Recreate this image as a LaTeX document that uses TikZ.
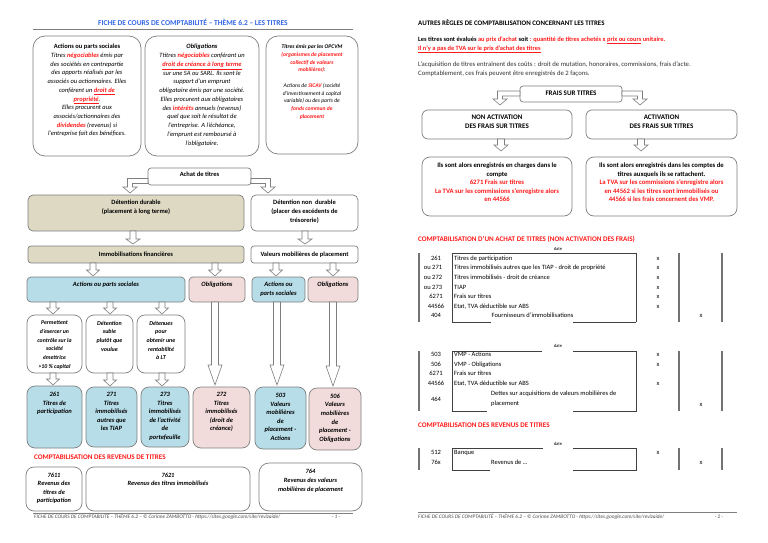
\documentclass[tikz,border=0pt]{standalone}
\usepackage{fontspec}
\setmainfont{Carlito}
\usetikzlibrary{calc}
\definecolor{tblue}{HTML}{3366E6}
\definecolor{tred}{HTML}{FF1A1A}
\definecolor{bgray}{HTML}{7F7F7F}
\definecolor{tanfill}{HTML}{DDD9C3}
\definecolor{bluefill}{HTML}{B7DDE8}
\definecolor{pinkfill}{HTML}{F2DCDB}
\newcommand\rd[1]{\textcolor{tred}{#1}}
\newcommand\fsz[2]{\fontsize{#1}{#2}\selectfont}
\tikzset{
 bx/.style={draw=bgray, line width=0.7pt, inner sep=0pt, outer sep=0pt, anchor=north west},
 txt/.style={inner sep=0pt, align=center, anchor=north},
 harrow/.style={draw=bgray, line width=0.6pt, fill=white, line join=miter},
 jl/.style={draw=black!75, line width=0.5pt},
 jthick/.style={draw=black!55, line width=1.2pt},
 jt/.style={inner sep=0pt, font=\fsz{6.5}{7.5}},
 jn/.style={jt, anchor=base},
 jw/.style={jt, anchor=base west},
 dt/.style={inner sep=0pt, anchor=base, font=\fsz{4.6}{5}},
 foot/.style={inner sep=0pt, anchor=base west, font=\itshape\fsz{5.3}{6}, text=black!70},
 redhead/.style={inner sep=0pt, anchor=base west, font=\bfseries\fsz{7.1}{8}, text=tred},
}
\newcommand\mkbox[6]{\node[bx,#6,minimum width={(#4-#2)*1pt},minimum height={(#5-#3)*1pt}] (#1) at (#2,#3) {};}
% hollow down arrow: x, from, to, shaft half, head half, head length, gap
\newcommand\hdn[7]{\draw[harrow] let \p1=(#2.south), \p2=(#3.north) in
  ({#1pt-#4pt},\y1) -- ({#1pt-#4pt},{\y2+#7pt+#6pt}) -- ({#1pt-#5pt},{\y2+#7pt+#6pt}) -- (#1pt,{\y2+#7pt}) -- ({#1pt+#5pt},{\y2+#7pt+#6pt}) -- ({#1pt+#4pt},{\y2+#7pt+#6pt}) -- ({#1pt+#4pt},\y1) -- cycle;}
% hollow bent arrow: from anchor, to node, bend x, shaft offset down, gap, direction
\newcommand\bentarrow[6]{\draw[harrow] let \p1=(#1), \p2=(#2.north) in
  (\x1,{\y1-#4pt+2.5pt}) -- ({#3pt+#6*2.5pt},{\y1-#4pt+2.5pt}) -- ({#3pt+#6*2.5pt},{\y2+#5pt+6pt}) -- ({#3pt+#6*7pt},{\y2+#5pt+6pt}) -- (#3pt,{\y2+#5pt}) -- ({#3pt-#6*7pt},{\y2+#5pt+6pt}) -- ({#3pt-#6*2.5pt},{\y2+#5pt+6pt}) -- ({#3pt-#6*2.5pt},{\y1-#4pt-2.5pt}) -- (\x1,{\y1-#4pt-2.5pt}) -- cycle;}
\begin{document}
\begin{tikzpicture}[x=1pt,y=-1pt]
\fill[white] (0,0) rectangle (768,543);
\useasboundingbox (0,0) rectangle (768,543);

%================ LEFT PAGE ================
\node[inner sep=0pt, anchor=base, font=\bfseries\fsz{7.5}{8}, text=tblue] (title) at (193,25.8) {FICHE DE COURS DE COMPTABILITÉ – THÈME 6.2 – LES TITRES};
\draw[bgray, line width=0.6pt] (33,29) -- (353,29);

\mkbox{a1}{33}{36}{141}{156}{rounded corners=12pt}
\node[txt, font=\itshape\fsz{6.5}{8.7}] at (87,44.1) {\textup{\textbf{Actions ou parts sociales}}\\
Titres \rd{\textbf{négociables}} émis par\\
des sociétés en contrepartie\\
des apports réalisés par les\\
associés ou actionnaires. Elles\\
confèrent un \rd{\textbf{\underline{droit de}}}\\
\rd{\textbf{\underline{propriété}}}.\\
Elles procurent aux\\
associés/actionnaires des\\
\rd{\textbf{dividendes}} (revenus) si\\
l'entreprise fait des bénéfices.};

\mkbox{a2}{145}{36}{259}{156}{rounded corners=12pt}
\node[txt, font=\itshape\fsz{6.5}{8.75}] at (202,44.1) {\textbf{Obligations}\\
Ttitres \rd{\textbf{négociables}} conférant un\\
\rd{\textbf{\underline{droit de créance à long terme}}}\\
sur une SA ou SARL. Ils sont le\\
support d'un emprunt\\
obligataire émis par une société.\\
Elles procurent aux obligataires\\
des \rd{\textbf{intérêts}} annuels (revenus)\\
quel que soit le résultat de\\
l'entreprise. A l'échéance,\\
l'emprunt est remboursé à\\
l'obligataire.};

\mkbox{a3}{266}{36}{358}{154}{rounded corners=12pt}
\node[txt, font=\itshape\fsz{5.6}{7.75}] at (312,44.5) {\textbf{Titres émis par les OPCVM}\\
\rd{\textbf{(organismes de placement}}\\
\rd{\textbf{collectif de valeurs}}\\
\rd{\textbf{mobilières)}}:\\[7.75pt]
Actions de \rd{\textbf{SICAV}} (société\\
d'investissement à capital\\
variable) ou des parts de\\
\rd{\textbf{fonds commun de}}\\
\rd{\textbf{placement}}};

\mkbox{achat}{148}{168}{251}{185}{rounded corners=3pt}
\node[txt, font=\bfseries\fsz{6.5}{8}] at (199.5,172.2) {Achat de titres};

\mkbox{dur}{28}{195}{244}{231}{fill=tanfill, rounded corners=5pt}
\node[txt, font=\bfseries\fsz{6.5}{8.6}] at (136,200.1) {Détention durable\\(placement à long terme)};
\mkbox{ndur}{251}{195}{358}{231}{rounded corners=5pt}
\node[txt, font=\bfseries\fsz{6.5}{8.7}] at (304.5,200.1) {Détention non~ durable\\(placer des excédents de\\trésorerie)};

\bentarrow{achat.west}{dur}{130}{4.5}{2}{(-1)}
\bentarrow{achat.east}{ndur}{268}{4.5}{2}{1}

\mkbox{immo}{28}{246}{244}{263}{fill=tanfill, rounded corners=3pt}
\node[txt, font=\bfseries\fsz{6.5}{8}] at (136,251.7) {Immobilisations financières};
\mkbox{vmp}{251}{246}{358}{263}{rounded corners=3pt}
\node[txt, font=\bfseries\fsz{6.5}{8}] at (304.5,251.7) {Valeurs mobilières de placement};

\hdn{133}{dur}{immo}{3}{7}{5}{2}
\hdn{305}{ndur}{vmp}{3}{7}{5}{2}

\mkbox{actl}{27}{277}{185}{302}{fill=bluefill, rounded corners=4pt}
\mkbox{obl}{189}{277}{245}{302}{fill=pinkfill, rounded corners=4pt}
\mkbox{actr}{252}{277}{305}{302}{fill=bluefill, rounded corners=4pt}
\mkbox{obr}{308}{277}{358}{302}{fill=pinkfill, rounded corners=4pt}
\node[txt, font=\bfseries\itshape\fsz{6.5}{9}] at (106,282.1) {Actions ou parts sociales};
\node[txt, font=\bfseries\itshape\fsz{6.5}{9}] at (217,282.1) {Obligations};
\node[txt, font=\bfseries\itshape\fsz{6.5}{9}] at (278.5,282.1) {Actions ou\\parts sociales};
\node[txt, font=\bfseries\itshape\fsz{6.5}{9}] at (333,282.1) {Obligations};

\hdn{93}{immo}{actl}{3}{6.5}{6}{1}
\hdn{215}{immo}{obl}{3}{6.5}{6}{1}
\hdn{276}{vmp}{actr}{3}{6.5}{6}{1}
\hdn{333}{vmp}{obr}{3}{6.5}{6}{1}

\mkbox{p1}{27}{315}{82}{373}{rounded corners=8pt}
\mkbox{p2}{86}{315}{133}{373}{rounded corners=8pt}
\mkbox{p3}{137}{315}{185}{373}{rounded corners=8pt}
\node[txt, font=\bfseries\itshape\fsz{5.8}{8.7}] at (54.5,320.7) {Permettent\\d'exercer un\\contrôle sur la\\société\\émettrice\\>10~\%~capital};
\node[txt, font=\bfseries\itshape\fsz{6}{8.7}] at (109.5,320.7) {Détention\\subie\\plutôt que\\voulue};
\node[txt, font=\bfseries\itshape\fsz{6}{8.7}] at (161,320.7) {Détenues\\pour\\obtenir une\\rentabilité\\à LT};

\hdn{53}{actl}{p1}{3}{6.5}{6}{1}
\hdn{110}{actl}{p2}{3}{6.5}{6}{1}
\hdn{162}{actl}{p3}{3}{6.5}{6}{1}

\mkbox{b261}{27}{386}{82}{448}{fill=bluefill, rounded corners=8pt}
\mkbox{b271}{86}{387}{137}{447}{fill=bluefill, rounded corners=8pt}
\mkbox{b273}{141}{387}{189}{447}{fill=bluefill, rounded corners=8pt}
\mkbox{b272}{193}{387}{250}{448}{fill=pinkfill, rounded corners=8pt}
\mkbox{b503}{255}{387}{306}{449}{fill=bluefill, rounded corners=8pt}
\mkbox{b506}{309}{388}{361}{450}{fill=pinkfill, rounded corners=8pt}
\node[txt, font=\bfseries\itshape\fsz{6.5}{8.6}] at (54.5,392.1) {261\\Titres de\\participation};
\node[txt, font=\bfseries\itshape\fsz{6.5}{8.6}] at (111.5,392.1) {271\\Titres\\immobilisés\\autres que\\les TIAP};
\node[txt, font=\bfseries\itshape\fsz{6.5}{8.6}] at (165,392.1) {273\\Titres\\immobilisés\\de l'activité\\de\\portefeuille};
\node[txt, font=\bfseries\itshape\fsz{6.5}{8.6}] at (221.5,392.1) {272\\Titres\\immobilisés\\(droit de\\créance)};
\node[txt, font=\bfseries\itshape\fsz{6.5}{8.55}] at (280.5,393.1) {503\\Valeurs\\mobilières\\de\\placement -\\Actions};
\node[txt, font=\bfseries\itshape\fsz{6.5}{8.6}] at (335,393.6) {506\\Valeurs\\mobilières\\de\\placement -\\Obligations};

\hdn{53}{p1}{b261}{3}{6.5}{6}{1}
\hdn{110}{p2}{b271}{3}{6.5}{6}{1}
\hdn{162}{p3}{b273}{3}{6.5}{6}{1}
\hdn{215}{obl}{b272}{3.5}{7}{20}{2}
\hdn{277}{actr}{b503}{3.5}{7}{20}{2}
\hdn{333}{obr}{b506}{3.5}{7}{20}{2}

\node[redhead] (revl) at (34,459.3) {COMPTABILISATION DES REVENUS DE TITRES};

\mkbox{r7611}{26}{467}{82}{511}{rounded corners=8pt}
\mkbox{r7621}{86}{467}{250}{511}{rounded corners=8pt}
\mkbox{r764}{259}{463}{362}{511}{rounded corners=10pt}
\node[txt, font=\bfseries\itshape\fsz{6.4}{8.5}] at (54,472.9) {7611\\Revenus des\\titres de\\participation};
\node[txt, font=\bfseries\itshape\fsz{6.4}{8.5}] at (168,472.9) {7621\\Revenus des titres immobilisés};
\node[txt, font=\bfseries\itshape\fsz{6.4}{8.9}] at (310.5,468.9) {764\\Revenus des valeurs\\mobilières de placement};

\draw[bgray, line width=0.5pt] (33,512.8) -- (353,512.8);
\node[foot] at (34,518.8) {FICHE DE COURS DE COMPTABILITÉ – THÈME 6.2 – © Corinne ZAMBOTTO - https://sites.google.com/site/revizaide/};
\node[foot, anchor=base] at (336,518.8) {-~1~-};

%================ RIGHT PAGE ================
\node[inner sep=0pt, anchor=base west, font=\bfseries\fsz{6.9}{8}] (h2) at (418,25.1) {AUTRES RÈGLES DE COMPTABILISATION CONCERNANT LES TITRES};
\node[inner sep=0pt, anchor=north west, align=left, font=\bfseries\fsz{6.4}{9}] at (418,36.2) {Les titres sont évalués \rd{au prix d'achat} soit \rd{: quantité de titres achetés x \underline{prix ou cours} unitaire.}\\
\rd{\underline{Il n'y a pas de TVA sur le prix d'achat des titres}}};
\node[inner sep=0pt, anchor=north west, align=left, font=\fsz{6.7}{9}, text=black!80] at (418,62) {L'acquisition de titres entraînent des coûts : droit de mutation, honoraires, commissions, frais d'acte.\\
Comptablement, ces frais peuvent être enregistrés de 2 façons.};

\mkbox{frais}{520}{86}{622}{102}{rounded corners=3pt}
\node[txt, font=\bfseries\fsz{7}{8}] at (571,90.9) {FRAIS SUR TITRES};
\mkbox{na}{422}{110}{572}{139}{rounded corners=6pt}
\mkbox{ac}{586}{110}{737}{139}{rounded corners=6pt}
\node[txt, font=\bfseries\fsz{7}{8.4}] at (497,115.2) {NON ACTIVATION\\DES FRAIS SUR TITRES};
\node[txt, font=\bfseries\fsz{7}{8.4}] at (661.5,115.2) {ACTIVATION\\DES FRAIS SUR TITRES};
\bentarrow{frais.west}{na}{500}{-0.5}{5}{(-1)}
\bentarrow{frais.east}{ac}{640}{-0.5}{5}{1}

\mkbox{c1}{422}{157}{572}{216}{rounded corners=8pt}
\mkbox{c2}{586}{157}{737}{216}{rounded corners=8pt}
\node[txt, font=\bfseries\fsz{6.7}{8.5}] at (497,162.7) {Ils sont alors enregistrés en charges dans le\\compte\\\rd{6271 Frais sur titres}\\\rd{La TVA sur les commissions s'enregistre alors}\\\rd{en 44566}};
\node[txt, font=\bfseries\fsz{6.7}{8.5}] at (661.5,162.7) {Ils sont alors enregistrés dans les comptes de\\titres auxquels ils se rattachent.\\\rd{La TVA sur les commissions s'enregistre alors}\\\rd{en 44562 si les titres sont immobilisés ou}\\\rd{44566 si les frais concernent des VMP.}};
\hdn{501}{na}{c1}{3.5}{7}{6}{6}
\hdn{641}{ac}{c2}{3.5}{7}{6}{6}

\node[redhead] (h3) at (418,241.2) {COMPTABILISATION D'UN ACHAT DE TITRES (NON ACTIVATION DES FRAIS)};

% journal 1
\node[dt] at (558,250.2) {date};
\draw[jthick] (419,253) -- (419,322);
\draw[jthick] (679,253) -- (679,322);
\draw[jthick] (722,253) -- (722,322);
\draw[jl] (452,322) -- (452,253) -- (636,253) -- (636,322);
\draw[jl] (452,322) -- (491,322);
\draw[jl] (573,322) -- (636,322);
\node[jn] at (436,260.3) {261};
\node[jn] at (433,269.9) {ou 271};
\node[jn] at (433,279.4) {ou 272};
\node[jn] at (433,289) {ou 273};
\node[jn] at (436,298.5) {6271};
\node[jn] at (436,308.1) {44566};
\node[jn] at (436,317.6) {404};
\node[jw] at (454,260.3) {Titres de participation};
\node[jw] at (454,269.9) {Titres immobilisés autres que les TIAP - droit de propriété};
\node[jw] at (454,279.4) {Titres immobilisés - droit de créance};
\node[jw] at (454,289) {TIAP};
\node[jw] at (454,298.5) {Frais sur titres};
\node[jw] at (454,308.1) {Etat, TVA déductible sur ABS};
\node[jn] at (532.5,317.6) {Fournisseurs d'immobilisations};
\foreach \yy in {260.3,269.9,279.4,289,298.5,308.1} {\node[jn] at (658,\yy) {x};}
\node[jn] at (701,317.6) {x};

% journal 2
\node[dt] at (558,347.2) {date};
\draw[jthick] (419,351) -- (419,411);
\draw[jthick] (679,351) -- (679,411);
\draw[jthick] (722,351) -- (722,411);
\draw[jl] (542,351) -- (452,351) -- (452,411) -- (487,411);
\draw[jl] (573,351) -- (636,351) -- (636,411) -- (573,411);
\node[jn] at (436,356.5) {503};
\node[jn] at (436,366.1) {506};
\node[jn] at (436,375.6) {6271};
\node[jn] at (436,385.2) {44566};
\node[jn] at (436,401.5) {464};
\node[jw] at (454,356.5) {VMP - Actions};
\node[jw] at (454,366.1) {VMP - Obligations};
\node[jw] at (454,375.6) {Frais sur titres};
\node[jw] at (454,385.2) {Etat, TVA déductible sur ABS};
\node[jw] at (491,395.1) {Dettes sur acquisitions de valeurs mobilières de};
\node[jw] at (491,405.1) {placement};
\foreach \yy in {356.5,366.1,385.2} {\node[jn] at (658,\yy) {x};}
\node[jn] at (701,406.5) {x};

\node[redhead] (h4) at (418,427.3) {COMPTABILISATION DES REVENUS DE TITRES};

% journal 3
\node[dt] at (558,445.2) {date};
\draw[jthick] (419,448) -- (419,470);
\draw[jthick] (679,448) -- (679,470);
\draw[jthick] (722,448) -- (722,470);
\draw[jl] (543,448) -- (452,448) -- (452,470) -- (490,470);
\draw[jl] (573,448) -- (636,448) -- (636,470) -- (573,470);
\node[jn] at (436,454.8) {512};
\node[jn] at (436,464.5) {76x};
\node[jw] at (454,454.8) {Banque};
\node[jw] at (491,464.5) {Revenus de …};
\node[jn] at (658,454.8) {x};
\node[jn] at (701,464.5) {x};

\draw[bgray, line width=0.5pt] (418,512.3) -- (737,512.3);
\node[foot] at (418,518.8) {FICHE DE COURS DE COMPTABILITÉ – THÈME 6.2 – © Corinne ZAMBOTTO - https://sites.google.com/site/revizaide/};
\node[foot, anchor=base] at (719,518.8) {-~2~-};
\end{tikzpicture}
\end{document}
